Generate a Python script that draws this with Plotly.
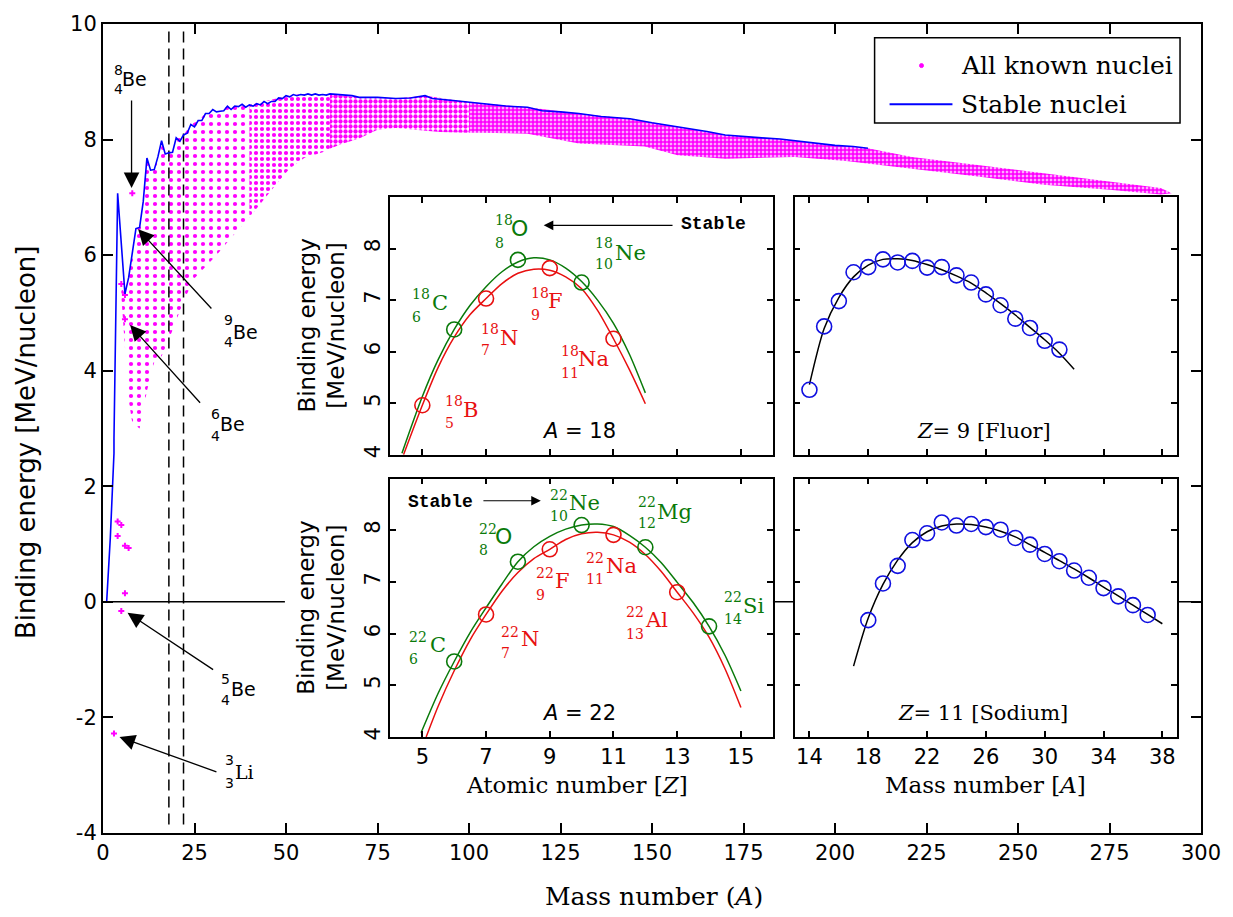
import plotly.graph_objects as go

# ------------------------------------------------------------------ data
# Main chart: stable nuclei (mass number A, binding energy per nucleon in MeV)
stable_A = [1, 2, 3, 3, 4, 6, 7, 9, 10, 11, 12, 13, 14, 15, 16, 17, 18, 19, 20, 21,
            22, 23, 24, 25, 26, 27, 28, 29, 30, 31, 32, 33, 34, 35, 36, 37, 38, 39, 40,
            41, 42, 43, 44, 45, 46, 47, 48, 49, 50, 51, 52, 53, 54, 55, 56, 57, 58, 59,
            60, 61, 62, 64, 66, 68, 70, 72, 75, 80, 84, 88, 90, 95, 100, 105, 110, 116,
            120, 125, 130, 136, 140, 144, 150, 157, 160, 165, 170, 175, 180, 185, 190,
            195, 200, 205, 209]
stable_BE = [0.00, 1.11, 2.57, 2.83, 7.07, 5.33, 5.61, 6.46, 6.48, 6.93, 7.68, 7.47,
             7.48, 7.70, 7.98, 7.75, 7.77, 7.78, 8.03, 7.97, 8.08, 8.11, 8.26, 8.22,
             8.33, 8.33, 8.45, 8.45, 8.52, 8.48, 8.49, 8.50, 8.58, 8.52, 8.58, 8.57,
             8.61, 8.56, 8.60, 8.58, 8.62, 8.60, 8.66, 8.62, 8.66, 8.66, 8.72, 8.71,
             8.76, 8.74, 8.78, 8.76, 8.78, 8.77, 8.79, 8.77, 8.79, 8.77, 8.78, 8.77,
             8.79, 8.78, 8.76, 8.76, 8.73, 8.73, 8.73, 8.71, 8.72, 8.76, 8.71, 8.68,
             8.65, 8.61, 8.58, 8.56, 8.50, 8.48, 8.45, 8.40, 8.38, 8.36, 8.29, 8.22,
             8.20, 8.14, 8.08, 8.05, 8.03, 8.01, 7.97, 7.93, 7.90, 7.88, 7.85]

# All known nuclei: upper and lower edge of the cloud of points
cloud_top_A = [5, 6, 7, 8, 9, 10, 11, 12, 13, 14, 15, 16, 17, 18, 19, 20, 22, 24, 26,
               28, 30, 32, 34, 36, 38, 40, 44, 48, 52, 56, 62, 70, 80, 88, 100, 116,
               130, 144, 157, 170, 185, 200, 209, 221, 239, 257, 275, 289, 292]
cloud_top_BE = [5.45, 5.33, 5.61, 6.05, 6.46, 6.48, 6.93, 7.68, 7.47, 7.48, 7.70, 7.98,
                7.75, 7.77, 7.78, 8.03, 8.08, 8.26, 8.33, 8.45, 8.52, 8.49, 8.58, 8.58,
                8.61, 8.60, 8.66, 8.72, 8.78, 8.79, 8.79, 8.73, 8.71, 8.76, 8.65, 8.56,
                8.45, 8.36, 8.22, 8.08, 8.01, 7.90, 7.85, 7.70, 7.56, 7.42, 7.28, 7.16,
                7.07]
cloud_bottom_A = [5, 6, 7, 8, 10, 12, 14, 16, 19, 22, 25, 31, 35, 40, 42, 47, 51, 55,
                  60, 62, 65, 70, 75, 80, 92, 100, 103, 116, 122, 130, 148, 157, 170,
                  189, 203, 221, 239, 257, 275, 289, 292]
cloud_bottom_BE = [5.30, 4.45, 3.50, 3.10, 3.00, 3.65, 4.15, 4.25, 4.70, 5.20, 5.60,
                   6.00, 6.30, 6.65, 6.80, 7.20, 7.50, 7.68, 7.78, 7.84, 7.92, 8.02,
                   8.17, 8.20, 8.13, 8.12, 8.12, 8.10, 8.02, 7.93, 7.88, 7.73, 7.67,
                   7.70, 7.63, 7.50, 7.36, 7.22, 7.13, 7.05, 7.07]

# isolated light nuclei outside the cloud
light_A = [3, 5, 6, 4, 5, 4, 6, 7, 8, 5, 6, 6]
light_BE = [-2.28, -0.16, 0.15, 1.39, 1.33, 1.14, 0.97, 0.93, 7.07, 5.50, 5.31, 4.89]

marked_A = [18, 22]  # isobars shown in the insets

main_x_ticks = [0, 25, 50, 75, 100, 125, 150, 175, 200, 225, 250, 275, 300]
main_y_ticks = [-4, -2, 0, 2, 4, 6, 8, 10]
main_y_labels = ["-4", "-2", "0", "2", "4", "6", "8", "10"]

# Inset A = 18 (x: atomic number Z)
a18_green_Z = [6, 8, 10]
a18_green_BE = [6.43, 7.78, 7.34]
a18_red_Z = [5, 7, 9, 11]
a18_red_BE = [4.96, 7.03, 7.62, 6.25]
a18_gcurve_Z = [4.36, 5, 5.5, 6, 6.5, 7, 7.5, 8, 8.5, 9, 9.5, 10, 10.5, 11, 11.5, 12]
a18_gcurve_BE = [4.03, 5.13, 5.85, 6.43, 6.90, 7.26, 7.55, 7.74, 7.82, 7.78, 7.62, 7.36,
                 7.00, 6.55, 5.95, 5.20]
a18_rcurve_Z = [4.41, 5, 5.5, 6, 6.5, 7, 7.5, 8, 8.5, 9, 9.5, 10, 10.5, 11, 11.5, 12]
a18_rcurve_BE = [4.00, 4.96, 5.70, 6.28, 6.72, 7.03, 7.32, 7.52, 7.60, 7.58, 7.45, 7.22,
                 6.80, 6.25, 5.65, 4.99]

# Inset A = 22
a22_green_Z = [6, 8, 10, 12, 14]
a22_green_BE = [5.46, 7.39, 8.10, 7.67, 6.14]
a22_red_Z = [7, 9, 11, 13]
a22_red_BE = [6.37, 7.63, 7.91, 6.80]
a22_gcurve_Z = [4.96, 5.5, 6, 6.5, 7, 7.5, 8, 8.5, 9, 9.5, 10, 10.5, 11, 11.5, 12, 12.5,
                13, 13.5, 14, 14.5, 15]
a22_gcurve_BE = [4.08, 4.85, 5.46, 6.02, 6.50, 6.96, 7.39, 7.68, 7.88, 8.02, 8.10, 8.12,
                 8.07, 7.90, 7.67, 7.37, 6.99, 6.60, 6.14, 5.58, 4.89]
a22_rcurve_Z = [5.12, 5.5, 6, 6.5, 7, 7.5, 8, 8.5, 9, 9.5, 10, 10.5, 11, 11.5, 12, 12.5,
                13, 13.5, 14, 14.5, 15]
a22_rcurve_BE = [4.00, 4.60, 5.28, 5.88, 6.37, 6.82, 7.18, 7.45, 7.63, 7.82, 7.93, 7.96,
                 7.91, 7.77, 7.53, 7.20, 6.80, 6.40, 5.93, 5.32, 4.57]
inset_Z_ticks = [5, 7, 9, 11, 13, 15]
inset_BE_ticks = [4, 5, 6, 7, 8]

# Inset Z = 9 (fluorine isotopes, x: mass number)
F_A = [14, 15, 16, 17, 18, 19, 20, 21, 22, 23, 24, 25, 26, 27, 28, 29, 30, 31]
F_BE = [5.26, 6.49, 6.98, 7.54, 7.64, 7.79, 7.73, 7.76, 7.63, 7.64, 7.48, 7.34, 7.11,
        6.90, 6.64, 6.46, 6.21, 6.04]
F_fit_A = [14, 15, 16, 17, 18, 19, 20, 21, 22, 23, 24, 25, 26, 27, 28, 29, 30, 31, 32]
F_fit_BE = [5.36, 6.45, 7.05, 7.45, 7.68, 7.79, 7.80, 7.77, 7.69, 7.59, 7.47, 7.33, 7.14,
            6.93, 6.71, 6.47, 6.23, 5.97, 5.66]

# Inset Z = 11 (sodium isotopes)
Na_A = [18, 19, 20, 21, 22, 23, 24, 25, 26, 27, 28, 29, 30, 31, 32, 33, 34, 35, 36, 37]
Na_BE = [6.26, 6.97, 7.31, 7.81, 7.94, 8.15, 8.09, 8.12, 8.06, 8.01, 7.85, 7.72, 7.54,
         7.40, 7.22, 7.08, 6.88, 6.72, 6.55, 6.36]
Na_fit_A = [17, 18, 19, 20, 21, 22, 23, 24, 25, 26, 27, 28, 29, 30, 31, 32, 33, 34, 35,
            36, 37, 38]
Na_fit_BE = [5.37, 6.30, 6.95, 7.42, 7.76, 7.97, 8.08, 8.12, 8.11, 8.06, 7.98, 7.87, 7.72,
             7.57, 7.41, 7.25, 7.08, 6.90, 6.73, 6.55, 6.37, 6.19]
inset_A_ticks = [14, 18, 22, 26, 30, 34, 38]

# ------------------------------------------------------------------ styles
MAGENTA = "#ff00ff"
BLUE = "#0000ff"
GREEN = "#0a7a0a"
RED = "#e81010"
CIRC_BLUE = "#1010e0"
SANS = "DejaVu Sans"
SERIF = "DejaVu Serif"
MONO = "Liberation Mono"

fig = go.Figure()

# ---- cloud of all known nuclei, drawn as dotted bands between read edges
# (A from, A to, dot spacing px, dot coverage)
bands = [(5, 40, 8, 0.22), (40, 62, 6, 0.38), (62, 100, 5, 0.58), (100, 292, 4, 0.78)]
for a0, a1, psize, psolid in bands:
    top = [(a, b) for a, b in zip(cloud_top_A, cloud_top_BE) if a0 <= a <= a1]
    bot = [(a, b) for a, b in zip(cloud_bottom_A, cloud_bottom_BE) if a0 <= a <= a1]
    pts = top + bot[::-1]
    fig.add_trace(go.Scatter(
        x=[p[0] for p in pts], y=[p[1] for p in pts], mode="lines",
        fill="toself", line=dict(width=0, color=MAGENTA),
        fillcolor="rgba(0,0,0,0)",
        fillpattern=dict(shape=".", fgcolor=MAGENTA, bgcolor="rgba(0,0,0,0)",
                         fgopacity=1, size=psize, solidity=psolid),
        hoverinfo="skip", showlegend=False))

fig.add_trace(go.Scatter(x=light_A, y=light_BE, mode="markers",
                         marker=dict(symbol="cross", size=5, color=MAGENTA),
                         showlegend=False, hoverinfo="skip"))

# dashed isobar lines
dash_x, dash_y = [], []
for a in marked_A:
    dash_x += [a, a, None]
    dash_y += [9.87, -3.93, None]
fig.add_trace(go.Scatter(x=dash_x, y=dash_y, mode="lines",
                         line=dict(color="black", width=1.5, dash="11px,6px"),
                         showlegend=False, hoverinfo="skip"))

# zero line (hidden behind the insets)
fig.add_trace(go.Scatter(x=[0, 49.7, None, 183, 300], y=[0, 0, None, 0, 0], mode="lines",
                         line=dict(color="black", width=1.5),
                         showlegend=False, hoverinfo="skip"))

fig.add_trace(go.Scatter(x=stable_A, y=stable_BE, mode="lines",
                         line=dict(color=BLUE, width=1.6),
                         showlegend=False, hoverinfo="skip"))

# ---- insets
def curve(x, y, color, xa, ya, shape="spline"):
    fig.add_trace(go.Scatter(x=x, y=y, mode="lines", xaxis=xa, yaxis=ya,
                             line=dict(color=color, width=1.5, shape=shape, smoothing=0.8),
                             showlegend=False, hoverinfo="skip"))

def circles(x, y, color, xa, ya):
    fig.add_trace(go.Scatter(x=x, y=y, mode="markers", xaxis=xa, yaxis=ya,
                             marker=dict(symbol="circle-open", size=15, color=color,
                                         line=dict(width=1.6, color=color)),
                             showlegend=False, hoverinfo="skip"))

curve(a18_gcurve_Z, a18_gcurve_BE, GREEN, "x2", "y2")
curve(a18_rcurve_Z, a18_rcurve_BE, RED, "x2", "y2")
circles(a18_green_Z, a18_green_BE, GREEN, "x2", "y2")
circles(a18_red_Z, a18_red_BE, RED, "x2", "y2")

curve(a22_gcurve_Z, a22_gcurve_BE, GREEN, "x3", "y3")
curve(a22_rcurve_Z, a22_rcurve_BE, RED, "x3", "y3")
circles(a22_green_Z, a22_green_BE, GREEN, "x3", "y3")
circles(a22_red_Z, a22_red_BE, RED, "x3", "y3")

curve(F_fit_A, F_fit_BE, "black", "x4", "y4")
circles(F_A, F_BE, CIRC_BLUE, "x4", "y4")

curve(Na_fit_A, Na_fit_BE, "black", "x5", "y5")
circles(Na_A, Na_BE, CIRC_BLUE, "x5", "y5")

# ------------------------------------------------------------------ layout
L, R, T, B = 103, 30, 16, 84
W, H = 1233, 917
PW, PH = W - L - R, H - T - B


def px_x(px):
    return (px - L) / PW


def px_y(py):
    return (H - B - py) / PH


main_axis = dict(showline=True, linecolor="black", linewidth=2, mirror="ticks",
                 ticks="inside", ticklen=10, tickwidth=1.5, tickcolor="black",
                 showgrid=False, zeroline=False,
                 tickfont=dict(family=SANS, size=21, color="black"))
inset_axis = dict(showline=True, linecolor="black", linewidth=1.5, mirror="ticks",
                  ticks="inside", ticklen=6, tickwidth=1.5, tickcolor="black",
                  showgrid=False, zeroline=False,
                  tickfont=dict(family=SANS, size=21, color="black"))

xl = [px_x(391), px_x(774)]
xr = [px_x(796), px_x(1179)]
yt = [px_y(451), px_y(190.7)]
yb = [px_y(736), px_y(475)]

fig.update_layout(
    width=W, height=H, margin=dict(l=L, r=R, t=T, b=B),
    paper_bgcolor="white", plot_bgcolor="white",
    font=dict(family=SANS, color="black"),
    showlegend=False,
    xaxis=dict(main_axis, range=[0, 300], tickvals=main_x_ticks, domain=[0, 1]),
    yaxis=dict(main_axis, range=[-4, 10], tickvals=main_y_ticks, ticktext=main_y_labels,
               domain=[0, 1]),
    xaxis2=dict(inset_axis, range=[4, 16], tickvals=inset_Z_ticks, showticklabels=False,
                domain=xl, anchor="y2"),
    yaxis2=dict(inset_axis, range=[4, 9], tickvals=inset_BE_ticks, tickangle=-90,
                domain=yt, anchor="x2"),
    xaxis3=dict(inset_axis, range=[4, 16], tickvals=inset_Z_ticks, domain=xl, anchor="y3"),
    yaxis3=dict(inset_axis, range=[4, 9], tickvals=inset_BE_ticks, tickangle=-90,
                domain=yb, anchor="x3"),
    xaxis4=dict(inset_axis, range=[13, 39], tickvals=inset_A_ticks, showticklabels=False,
                domain=xr, anchor="y4"),
    yaxis4=dict(inset_axis, range=[4, 9], tickvals=inset_BE_ticks, showticklabels=False,
                domain=yt, anchor="x4"),
    xaxis5=dict(inset_axis, range=[13, 39], tickvals=inset_A_ticks, domain=xr, anchor="y5"),
    yaxis5=dict(inset_axis, range=[4, 9], tickvals=inset_BE_ticks, showticklabels=False,
                domain=yb, anchor="x5"),
)

ann = []


def text(x, y, s, size, color="black", family=SERIF, xref="x", yref="y",
         xanchor="left", yanchor="middle", angle=0):
    ann.append(dict(x=x, y=y, text=s, xref=xref, yref=yref, showarrow=False,
                    xanchor=xanchor, yanchor=yanchor, textangle=angle,
                    font=dict(family=family, size=size, color=color)))


def arrow(x, y, ax, ay, xref="x", yref="y", size=2.4, width=1.3, head=2):
    ann.append(dict(x=x, y=y, ax=ax, ay=ay, xref=xref, yref=yref, axref=xref, ayref=yref,
                    text="", showarrow=True, arrowhead=head, arrowsize=size,
                    arrowwidth=width, arrowcolor="black", standoff=0))


def iso(ref, mass, z, sym, color, xn, ym, yz, xs, ys, nsize=14, ssize=21, family=SERIF,
        sfamily=None):
    xr_, yr_ = ref
    text(xn, ym, mass, nsize, color, family, xr_, yr_)
    text(xn, yz, z, nsize, color, family, xr_, yr_)
    text(xs, ys, sym, ssize, color, sfamily or family, xr_, yr_)


# main chart labels
iso(("x", "y"), "8", "4", "Be", "black", 2.45, 9.21, 8.87, 4.64, 9.04, 14, 19, SANS)
iso(("x", "y"), "9", "4", "Be", "black", 32.4, 4.88, 4.50, 34.9, 4.67, 14, 19, SANS)
iso(("x", "y"), "6", "4", "Be", "black", 29.0, 3.25, 2.87, 31.4, 3.08, 14, 19, SANS)
iso(("x", "y"), "5", "4", "Be", "black", 31.7, -1.33, -1.69, 34.4, -1.51, 14, 19, SANS)
iso(("x", "y"), "3", "3", "Li", "black", 32.8, -2.73, -3.13, 35.5, -2.95, 14, 19, SANS,
    SERIF)
arrow(7.8, 7.16, 7.8, 8.70)
arrow(9.6, 6.45, 30.0, 5.05)
arrow(7.4, 4.79, 26.9, 3.42)
arrow(6.7, -0.19, 30.5, -1.19)
arrow(4.5, -2.34, 31.4, -2.95)

# inset A = 18
r2 = ("x2", "y2")
iso(r2, "18", "6", "C", GREEN, 4.60, 7.11, 6.68, 5.24, 6.95)
iso(r2, "18", "8", "O", GREEN, 7.21, 8.55, 8.11, 7.72, 8.38, ssize=22, sfamily=SANS)
iso(r2, "18", "10", "Ne", GREEN, 10.36, 8.11, 7.70, 10.97, 7.92)
iso(r2, "18", "9", "F", RED, 8.36, 7.14, 6.71, 8.88, 6.98)
iso(r2, "18", "7", "N", RED, 6.79, 6.44, 6.03, 7.36, 6.27)
iso(r2, "18", "11", "Na", RED, 9.28, 6.01, 5.59, 9.82, 5.85)
iso(r2, "18", "5", "B", RED, 5.64, 5.04, 4.61, 6.22, 4.86)
text(13.06, 8.48, "<b>Stable</b>", 18, "black", MONO, "x2", "y2")
arrow(8.81, 8.45, 12.9, 8.45, "x2", "y2", size=1.6, width=1.2)
text(9.92, 4.46, "<i>A</i> = 18", 21, "black", SANS, "x2", "y2", xanchor="center")

# inset A = 22
r3 = ("x3", "y3")
iso(r3, "22", "10", "Ne", GREEN, 8.93, 8.68, 8.28, 9.53, 8.52)
iso(r3, "22", "12", "Mg", GREEN, 11.70, 8.55, 8.14, 12.31, 8.36)
iso(r3, "22", "8", "O", GREEN, 6.71, 8.03, 7.61, 7.22, 7.88, ssize=22, sfamily=SANS)
iso(r3, "22", "6", "C", GREEN, 4.52, 5.93, 5.51, 5.19, 5.78)
iso(r3, "22", "14", "Si", GREEN, 14.40, 6.70, 6.29, 14.99, 6.54)
iso(r3, "22", "9", "F", RED, 8.51, 7.18, 6.75, 9.11, 7.02)
iso(r3, "22", "11", "Na", RED, 10.08, 7.47, 7.05, 10.69, 7.30)
iso(r3, "22", "13", "Al", RED, 11.34, 6.41, 6.00, 11.94, 6.27)
iso(r3, "22", "7", "N", RED, 7.40, 6.04, 5.63, 8.02, 5.89)
text(4.49, 8.55, "<b>Stable</b>", 18, "black", MONO, "x3", "y3")
arrow(8.72, 8.57, 6.87, 8.57, "x3", "y3", size=1.6, width=1.2)
text(9.92, 4.47, "<i>A</i> = 22", 21, "black", SANS, "x3", "y3", xanchor="center")

# right insets
text(25.9, 4.46, "<i>Z</i>= 9 [Fluor]", 21, "black", SERIF, "x4", "y4", xanchor="center")
text(25.8, 4.47, "<i>Z</i>= 11 [Sodium]", 21, "black", SERIF, "x5", "y5",
     xanchor="center")

# axis titles
text(px_x(322), px_y(321), "Binding energy<br>[MeV/nucleon]", 23, "black", SANS,
     "paper", "paper", xanchor="center", angle=-90)
text(px_x(322), px_y(606), "Binding energy<br>[MeV/nucleon]", 23, "black", SANS,
     "paper", "paper", xanchor="center", angle=-90)
text(px_x(578), px_y(785), "Atomic number [<i>Z</i>]", 23, "black", SERIF,
     "paper", "paper", xanchor="center")
text(px_x(987), px_y(785), "Mass number [<i>A</i>]", 23, "black", SERIF,
     "paper", "paper", xanchor="center")
text(px_x(655), px_y(897), "Mass number (<i>A</i>)", 25, "black", SERIF,
     "paper", "paper", xanchor="center")
text(px_x(26), px_y(438), "Binding energy [MeV/nucleon]", 26, "black", SANS,
     "paper", "paper", xanchor="center", angle=-90)

# legend (drawn by hand to match the original box)
text(px_x(961), px_y(58), "All known nuclei", 25, "black", SERIF, "paper", "paper")
text(px_x(961), px_y(97), "Stable nuclei", 25, "black", SERIF, "paper", "paper")

fig.update_layout(annotations=ann, shapes=[
    dict(type="rect", xref="paper", yref="paper", x0=px_x(876), x1=px_x(1182),
         y0=px_y(116), y1=px_y(30), line=dict(color="black", width=1.5),
         fillcolor="white", layer="above"),
    dict(type="circle", xref="paper", yref="paper", x0=px_x(921), x1=px_x(925),
         y0=px_y(60), y1=px_y(56), line=dict(color=MAGENTA, width=1),
         fillcolor=MAGENTA, layer="above"),
    dict(type="line", xref="paper", yref="paper", x0=px_x(891), x1=px_x(954),
         y0=px_y(97), y1=px_y(97), line=dict(color=BLUE, width=2), layer="above"),
])

fig.write_html("out.html")
